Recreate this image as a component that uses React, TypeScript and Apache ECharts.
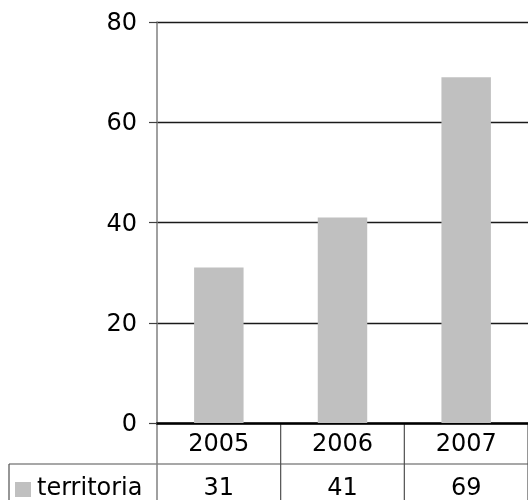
import React, { useEffect, useRef } from "react";
import * as echarts from "echarts";

const categories = ["2005", "2006", "2007"];
const values = [31, 41, 69];
const seriesName = "territoria";
const yMin = 0;
const yMax = 80;
const yInterval = 20;

const FONT = "DejaVu Sans";

export default function App() {
  const ref = useRef<HTMLDivElement>(null);
  useEffect(() => {
    if (!ref.current) return;
    const chart = echarts.init(ref.current, null, { renderer: "svg" });
    chart.setOption({
      animation: false,
      textStyle: { fontFamily: FONT },
      grid: { left: 157, top: 22, width: 374, height: 401, containLabel: false },
      xAxis: {
        type: "category",
        data: categories,
        axisLine: { show: true, lineStyle: { color: "#000", width: 2.5 } },
        axisTick: { show: false },
        axisLabel: { fontSize: 24, color: "#000", fontFamily: FONT, margin: 8 },
        splitLine: { show: false },
      },
      yAxis: {
        type: "value",
        min: yMin,
        max: yMax,
        interval: yInterval,
        axisLine: { show: true, lineStyle: { color: "#808080", width: 1.5 } },
        axisTick: { show: true, length: 8, lineStyle: { color: "#404040", width: 1.2 } },
        axisLabel: { fontSize: 24, color: "#000", fontFamily: FONT, margin: 20 },
        splitLine: { show: true, lineStyle: { color: "#1a1a1a", width: 1.3 } },
      },
      series: [
        {
          type: "bar",
          name: seriesName,
          data: values,
          barWidth: "40%",
          itemStyle: { color: "#C0C0C0" },
        },
      ],
    });

    const xs = categories.map((c) => chart.convertToPixel({ xAxisIndex: 0 }, c) as number);
    const band = xs.length > 1 ? xs[1] - xs[0] : 124;
    const y0 = chart.convertToPixel({ yAxisIndex: 0 }, yMin) as number;
    const rowH = 41;
    const row2Top = y0 + rowH;
    const tableBottom = 500;
    const lineColor = "#505050";
    const leftX = 9;
    const gridLeft = xs[0] - band / 2;
    const gridRight = xs[xs.length - 1] + band / 2;
    const row2Mid = (row2Top + tableBottom) / 2 + 5;

    const elements: any[] = [];
    elements.push({
      type: "line",
      shape: { x1: leftX, y1: row2Top, x2: gridRight, y2: row2Top },
      style: { stroke: lineColor, lineWidth: 1.2 },
    });
    elements.push({
      type: "line",
      shape: { x1: leftX, y1: row2Top, x2: leftX, y2: tableBottom },
      style: { stroke: lineColor, lineWidth: 1.2 },
    });
    for (let i = 0; i <= categories.length; i++) {
      const x = gridLeft + i * band;
      elements.push({
        type: "line",
        shape: { x1: x, y1: y0, x2: x, y2: tableBottom },
        style: { stroke: i === 0 ? "#808080" : lineColor, lineWidth: i === 0 ? 1.5 : 1.2 },
      });
    }
    values.forEach((v, i) => {
      elements.push({
        type: "text",
        x: xs[i],
        y: row2Mid,
        style: {
          text: String(v),
          fontSize: 24,
          fontFamily: FONT,
          fill: "#000",
          align: "center",
          verticalAlign: "middle",
        },
      });
    });
    elements.push({
      type: "rect",
      shape: { x: 15, y: 482, width: 16, height: 15 },
      style: { fill: "#C0C0C0" },
    });
    elements.push({
      type: "text",
      x: 37,
      y: row2Mid,
      style: {
        text: seriesName,
        fontSize: 24,
        fontFamily: FONT,
        fill: "#000",
        align: "left",
        verticalAlign: "middle",
      },
    });
    chart.setOption({ graphic: { elements } });

    return () => chart.dispose();
  }, []);
  return (
    <div
      ref={ref}
      style={{ position: "fixed", left: 0, top: 0, width: 528, height: 500 }}
    />
  );
}
